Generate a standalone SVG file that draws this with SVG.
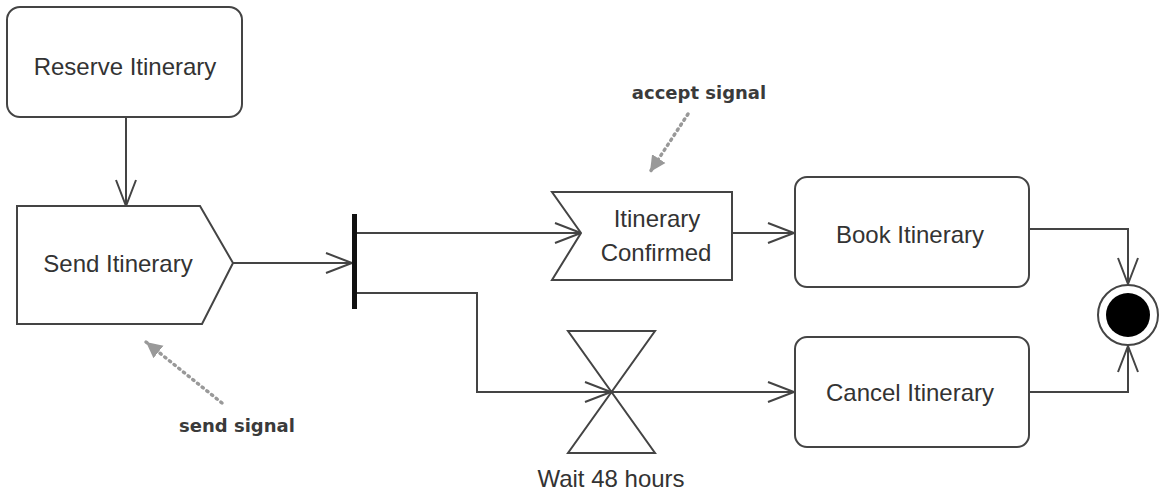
<svg xmlns="http://www.w3.org/2000/svg" width="1166" height="502" viewBox="0 0 1166 502">
  <defs>
    <marker id="open" markerUnits="userSpaceOnUse" markerWidth="30" markerHeight="24" viewBox="0 0 30 24" refX="27" refY="12" orient="auto">
      <path d="M1,2 L27,12 L1,22" fill="none" stroke="#444" stroke-width="2"/>
    </marker>
    <marker id="filled" markerUnits="userSpaceOnUse" markerWidth="20" markerHeight="20" viewBox="0 0 20 20" refX="16" refY="10" orient="auto">
      <path d="M0,2 L16,10 L0,18 Z" fill="#999"/>
    </marker>
    <style>
      .shape { fill: #fff; stroke: #444; stroke-width: 2; }
      .edge { fill: none; stroke: #444; stroke-width: 2; }
      .note { fill: none; stroke: #999; stroke-width: 3.5; stroke-dasharray: 1.5 4.5; stroke-linecap: round; }
      .label { font-family: "Liberation Sans", Arial, sans-serif; font-size: 24px; fill: #333; text-anchor: middle; }
      .ann { font-family: "DejaVu Sans", sans-serif; font-weight: bold; font-size: 18px; fill: #3a3a3a; text-anchor: middle; }
    </style>
  </defs>

  <g id="connectors">
    <path class="edge" d="M126,117 L126,206" marker-end="url(#open)"/>
    <path class="edge" d="M233,263 L352,263" marker-end="url(#open)"/>
    <path class="edge" d="M356,233 L581,233" marker-end="url(#open)"/>
    <path class="edge" d="M356,293 L477,293 L477,392 L611,392" marker-end="url(#open)"/>
    <path class="edge" d="M611,392 L794,392" marker-end="url(#open)"/>
    <path class="edge" d="M732,233 L794,233" marker-end="url(#open)"/>
    <path class="edge" d="M1029,229 L1128,229 L1128,284" marker-end="url(#open)"/>
    <path class="edge" d="M1029,392 L1128,392 L1128,346" marker-end="url(#open)"/>
    <path class="note" d="M688,114 L650,172" marker-end="url(#filled)"/>
    <path class="note" d="M222,403 L146,342" marker-end="url(#filled)"/>
  </g>

  <g id="reserve-itinerary">
    <rect class="shape" x="7" y="7" width="235" height="110" rx="13"/>
    <text class="label" x="125" y="75">Reserve Itinerary</text>
  </g>

  <g id="send-itinerary">
    <path class="shape" d="M17,206 L200,206 L233,263 L202,324 L17,324 Z"/>
    <text class="label" x="118" y="272">Send Itinerary</text>
  </g>

  <g id="fork">
    <rect x="352" y="214" width="5" height="95" fill="#111"/>
  </g>

  <g id="itinerary-confirmed">
    <path class="shape" d="M552,192 L732,192 L732,280 L552,280 L581,233 Z"/>
    <text class="label" x="657" y="227">Itinerary</text>
    <text class="label" x="656" y="261">Confirmed</text>
  </g>

  <g id="book-itinerary">
    <rect class="shape" x="795" y="177" width="234" height="110" rx="12"/>
    <text class="label" x="910" y="243">Book Itinerary</text>
  </g>

  <g id="wait-48-hours">
    <path class="edge" d="M568,331 L655,331 L568,453 L655,453 Z"/>
    <text class="label" x="611" y="487">Wait 48 hours</text>
  </g>

  <g id="cancel-itinerary">
    <rect class="shape" x="795" y="337" width="234" height="110" rx="12"/>
    <text class="label" x="910" y="401">Cancel Itinerary</text>
  </g>

  <g id="final-node">
    <circle cx="1128" cy="315" r="30" fill="#fff" stroke="#444" stroke-width="2"/>
    <circle cx="1128" cy="315" r="22" fill="#000"/>
  </g>

  <g id="accept-signal-note">
    <text class="ann" x="699" y="99">accept signal</text>
  </g>

  <g id="send-signal-note">
    <text class="ann" x="237" y="432">send signal</text>
  </g>
</svg>
